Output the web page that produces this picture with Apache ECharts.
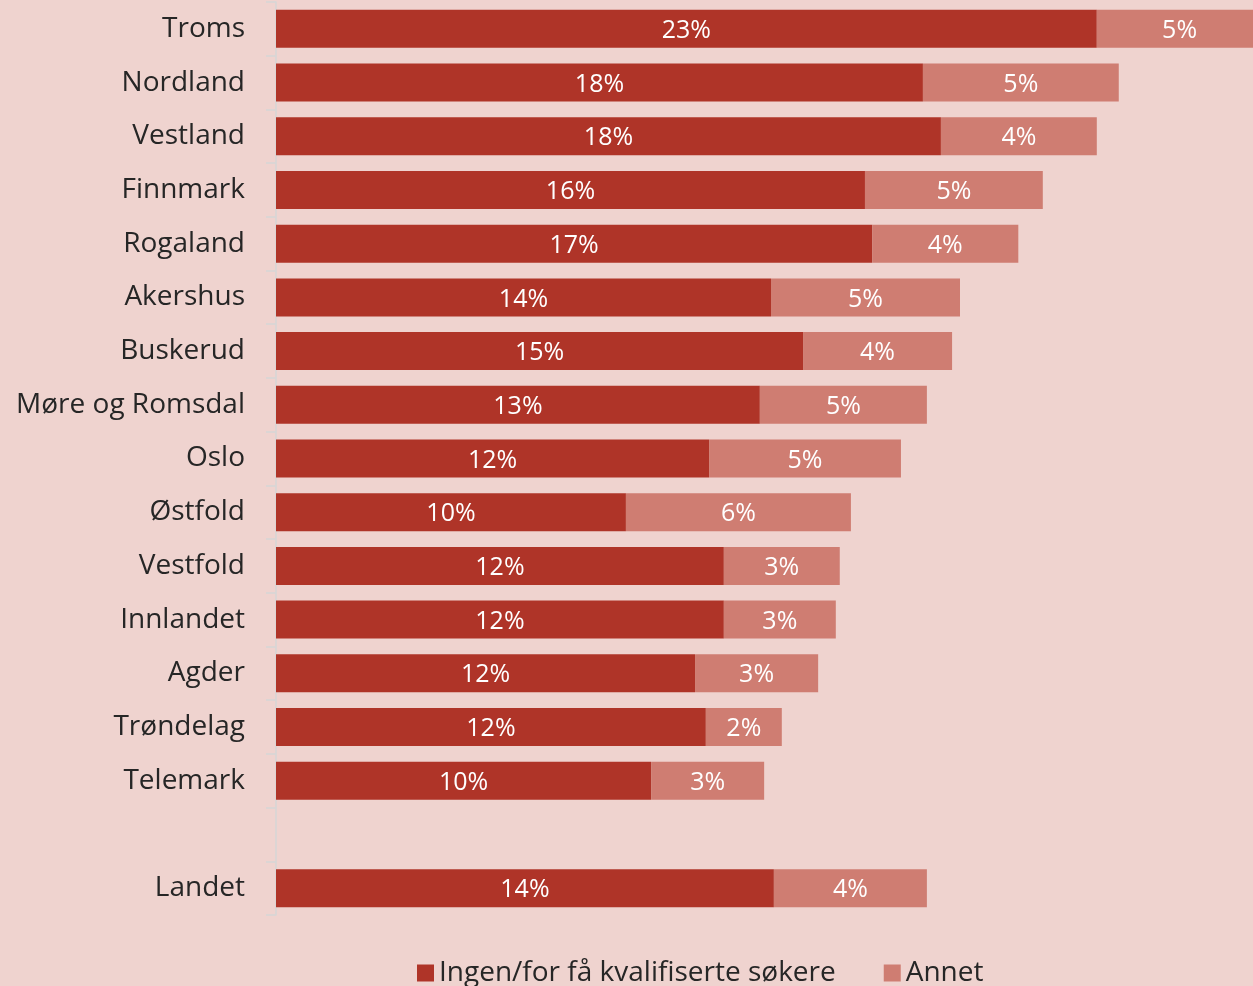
<!DOCTYPE html>
<html><head><meta charset="utf-8">
<script src="https://cdn.jsdelivr.net/npm/echarts@6/dist/echarts.min.js"></script>
<style>html,body{margin:0;padding:0;background:#EFD3CF}#c{width:1253px;height:986px}</style>
</head><body><div id="c"></div>
<script>
const categories = ["Troms","Nordland","Vestland","Finnmark","Rogaland","Akershus","Buskerud","Møre og Romsdal","Oslo","Østfold","Vestfold","Innlandet","Agder","Trøndelag","Telemark","","Landet"];
const ingen = [22.8,17.97,18.47,16.36,16.56,13.75,14.64,13.44,12.03,9.72,12.44,12.44,11.64,11.94,10.42,null,13.83];
const annet = [4.6,5.44,4.33,4.94,4.06,5.25,4.14,4.64,5.33,6.25,3.22,3.11,3.42,2.11,3.14,null,4.25];
const seriesNames = ["Ingen/for få kvalifiserte søkere","Annet"];

const font = "'Open Sans', sans-serif";
const chart = echarts.init(document.getElementById('c'));
const lbl = {show:true, position:'inside', color:'#fff', fontSize:25, fontFamily:font, offset:[0,2],
  formatter: p => p.value == null ? '' : Math.round(p.value) + '%'};
chart.setOption({
  backgroundColor:'#EFD3CF',
  animation:false,
  grid:{left:276, top:2, width:1080, bottom:71, outerBoundsMode:'none', containLabel:false},
  xAxis:{type:'value', min:0, max:30, show:false},
  yAxis:{type:'category', data:categories, inverse:true,
    axisLine:{show:true, lineStyle:{color:'#D6D6D6', width:1.5}},
    axisTick:{show:true, length:10, lineStyle:{color:'#D6D6D6', width:1.5}},
    axisLabel:{color:'#262626', fontSize:28, fontFamily:font, margin:31, padding:[4,0,0,0]}},
  legend:{left:412, bottom:-6, itemWidth:17, itemHeight:17, itemGap:48, icon:'rect',
    textStyle:{color:'#262626', fontSize:28, fontFamily:font}},
  series:[
    {name:seriesNames[0], type:'bar', stack:'a', data:ingen, barWidth:38, itemStyle:{color:'#AF3428'}, label:lbl},
    {name:seriesNames[1], type:'bar', stack:'a', data:annet, barWidth:38, itemStyle:{color:'#CF7D72'}, label:lbl}
  ]
});
</script></body></html>
